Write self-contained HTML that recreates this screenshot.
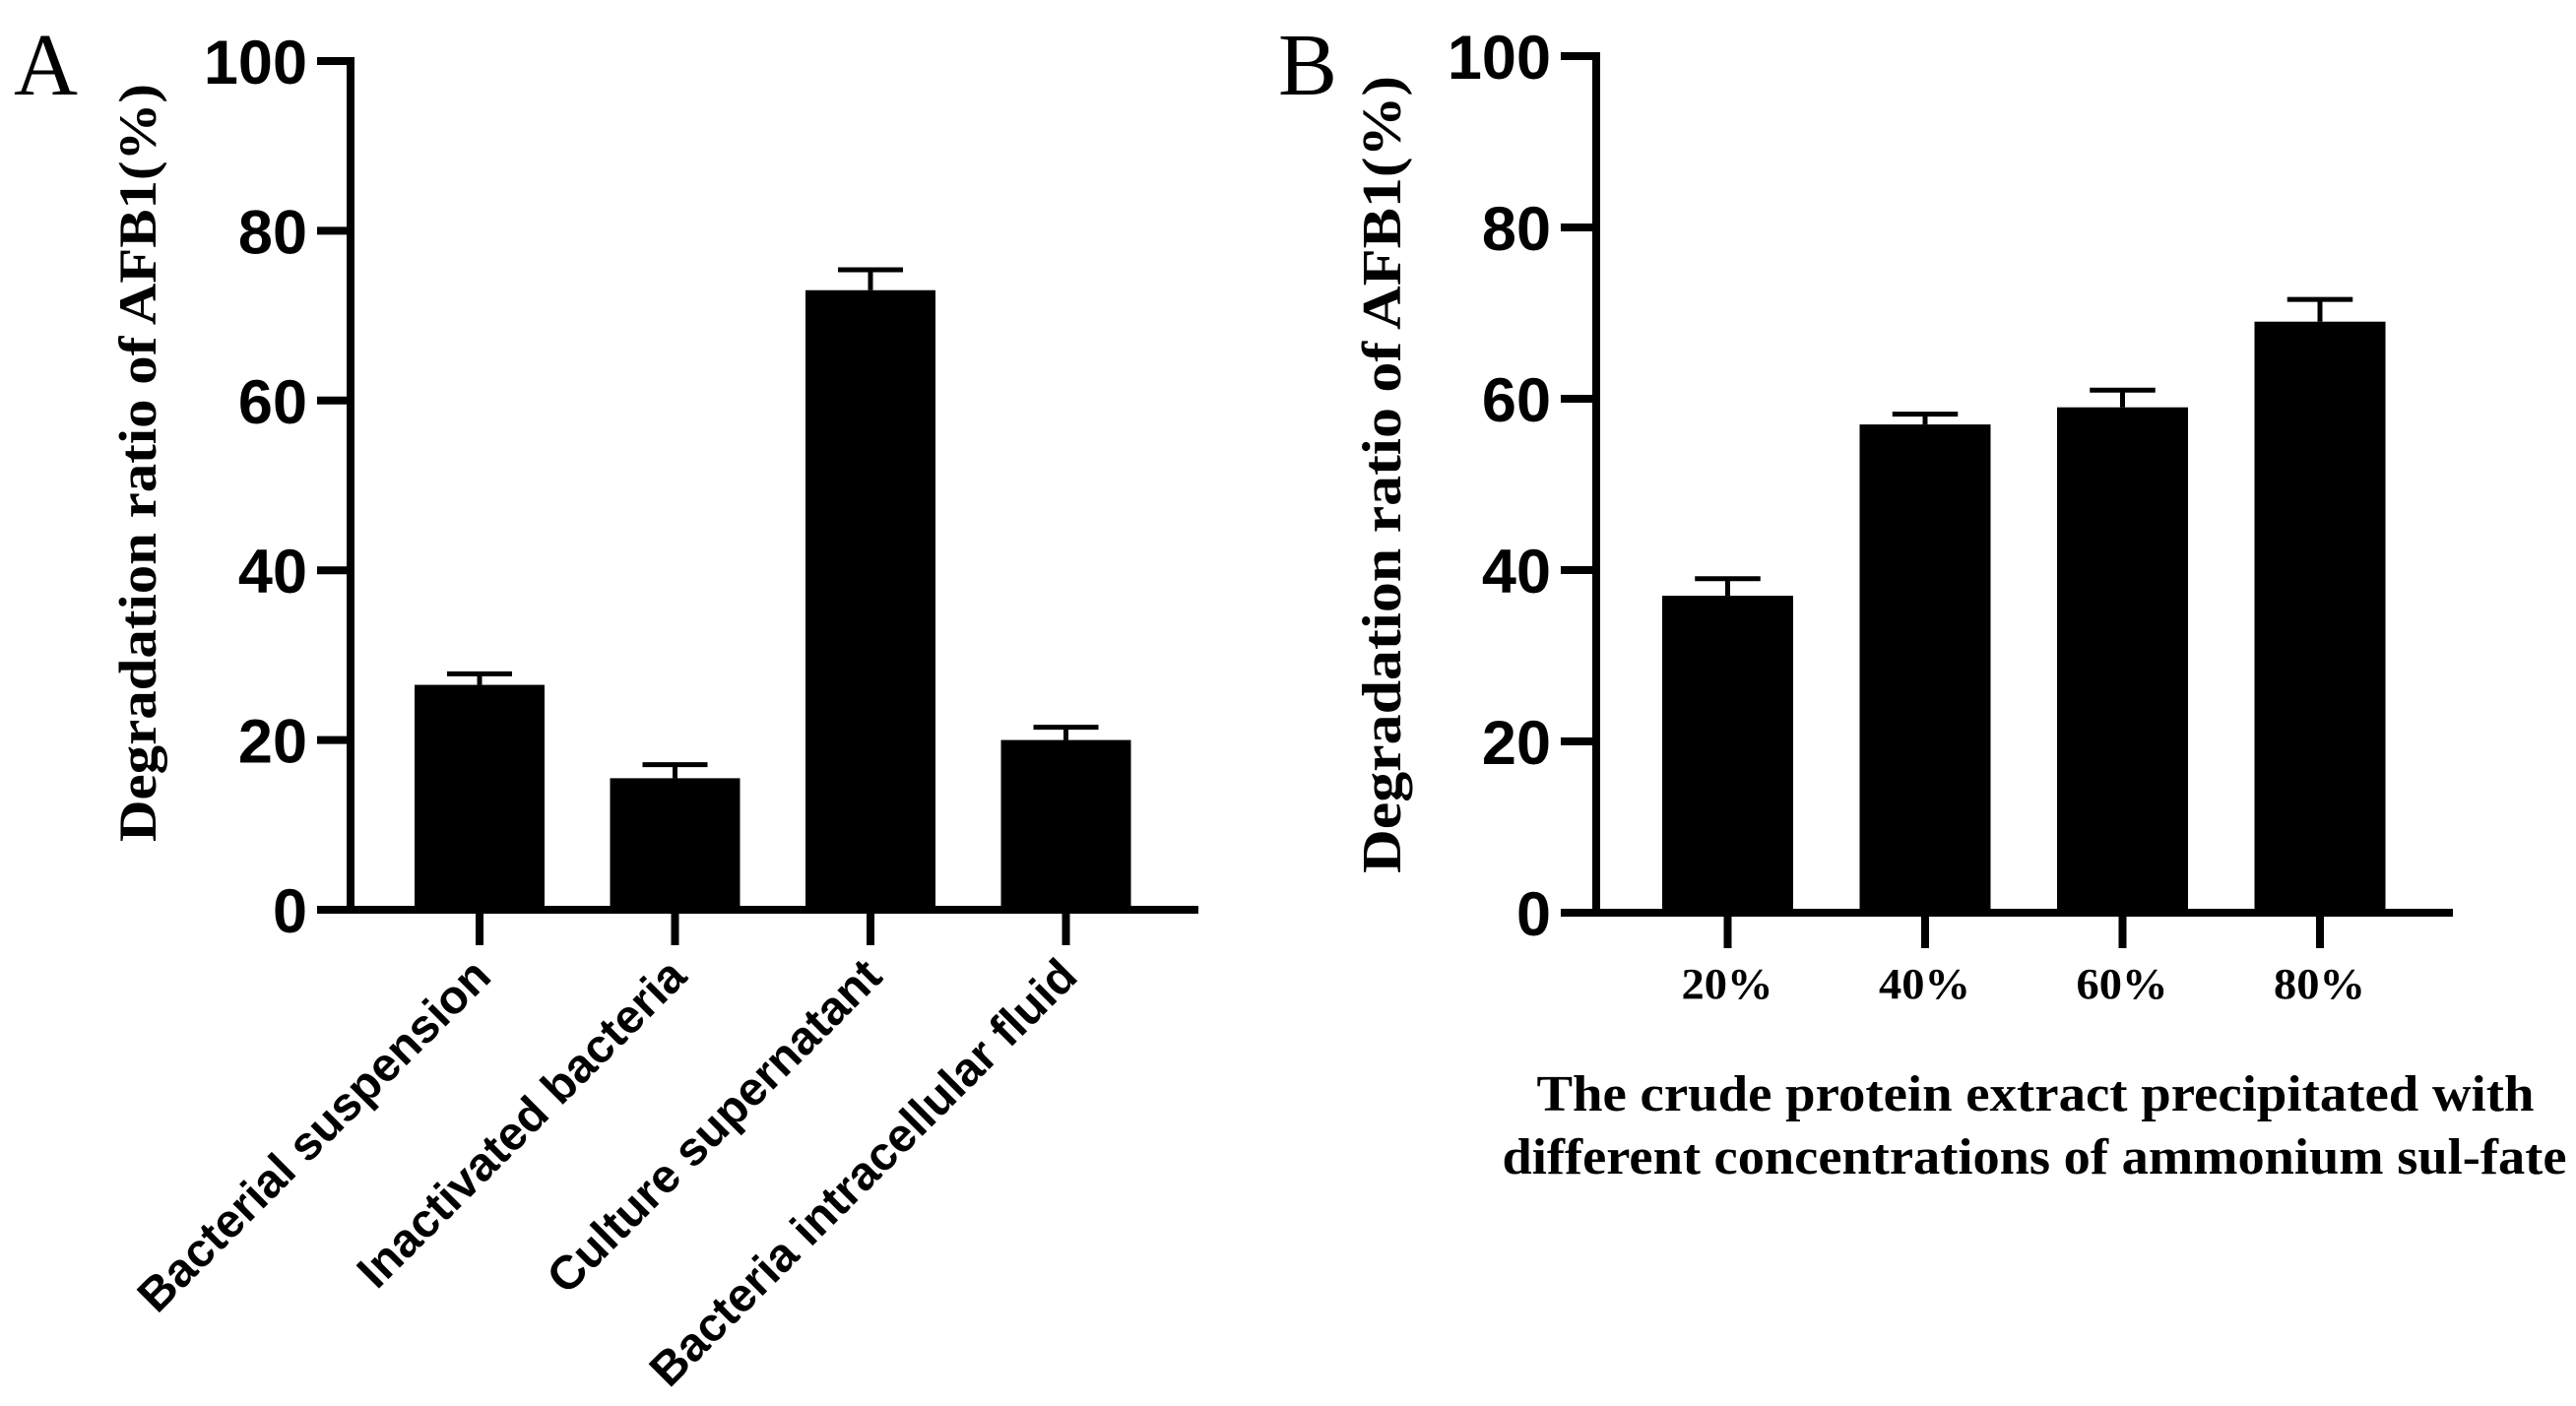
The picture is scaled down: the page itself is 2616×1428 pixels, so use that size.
<!DOCTYPE html>
<html><head><meta charset="utf-8"><style>
html,body{margin:0;padding:0;background:#fff;}
svg{display:block;}
.tick{font-family:"Liberation Sans",Arial,sans-serif;font-weight:bold;font-size:63px;}
.ser{font-family:"Liberation Serif","Times New Roman",serif;font-weight:bold;}
</style></head><body>
<svg id="chart" width="2616" height="1428" viewBox="0 0 2616 1428" xmlns="http://www.w3.org/2000/svg">
<rect width="2616" height="1428" fill="#fff"/>
<text x="14" y="96" class="ser" style="font-weight:normal" font-size="90">A</text>
<text x="1298" y="96" class="ser" style="font-weight:normal" font-size="90">B</text>
<g id="panelA"></g>
<g id="panelB"></g>
</svg>
<script>
const catsA = ["Bacterial suspension","Inactivated bacteria","Culture supernatant","Bacteria intracellular fluid"];
const valsA = [26.5, 15.5, 73, 20];
const errA = [1.3, 1.6, 2.4, 1.5];
const catsB = ["20%","40%","60%","80%"];
const valsB = [37, 57, 59, 69];
const errB = [2, 1.2, 2, 2.6];
const yTicks = [0, 20, 40, 60, 80, 100];
const NS = "http://www.w3.org/2000/svg";
function mk(parent, tag, attrs, text){
  const e = document.createElementNS(NS, tag);
  for (const k in attrs) e.setAttribute(k, attrs[k]);
  if (text !== undefined) e.textContent = text;
  parent.appendChild(e); return e;
}
function drawPanel(g, cfg, cats, vals, errs, prefix){
  const y = v => cfg.y0 - (cfg.y0 - cfg.y100) * v / 100;
  const x = i => cfg.firstBar + i * cfg.step;
  vals.forEach((v, i) => {
    const b = mk(g, "rect", {x: x(i), y: y(v), width: cfg.bw, height: y(0) - y(v), fill: "#000"});
    
    
    const cx = x(i) + cfg.bw / 2;
    const e1 = mk(g, "line", {x1: cx, x2: cx, y1: y(v), y2: y(v + errs[i]), stroke: "#000", "stroke-width": 5});
    
    
    const e2 = mk(g, "line", {x1: cx - cfg.bw / 4, x2: cx + cfg.bw / 4, y1: y(v + errs[i]), y2: y(v + errs[i]), stroke: "#000", "stroke-width": 5});
    
    
    const t = mk(g, "line", {x1: cx, x2: cx, y1: y(0), y2: y(0) + 36, stroke: "#000", "stroke-width": 8});
    
    
  });
  const ya = mk(g, "line", {x1: cfg.ax, x2: cfg.ax, y1: y(100) - 4, y2: y(0) + 4, stroke: "#000", "stroke-width": 8});
  
  
  const xa = mk(g, "line", {x1: cfg.xl, x2: cfg.xr, y1: y(0), y2: y(0), stroke: "#000", "stroke-width": 8});
  
  
  yTicks.forEach(t => {
    const l = mk(g, "line", {x1: cfg.xl, x2: cfg.ax, y1: y(t), y2: y(t), stroke: "#000", "stroke-width": 8});
    
    
    const tx = mk(g, "text", {x: cfg.xl - 10, y: y(t) + 23, "text-anchor": "end", class: "tick"}, String(t));
    
    
  });
  return {x, y};
}
const gA = document.getElementById("panelA");
const A = drawPanel(gA, {y0: 924, y100: 62, firstBar: 421, step: 198.5, bw: 132, ax: 356, xl: 322, xr: 1217}, catsA, valsA, errA, "a");
catsA.forEach((c, i) => {
  const cx = A.x(i) + 66 + 14, cy = 994;
  const t = mk(gA, "text", {x: cx, y: cy, "text-anchor": "end", transform: `rotate(-45 ${cx} ${cy})`, "font-family": "Liberation Sans, Arial, sans-serif", "font-weight": "bold", "font-size": 48}, c);
  
  
});
const ytA = mk(gA, "text", {x: 0, y: 0, transform: "translate(158 470) rotate(-90)", "text-anchor": "middle", class: "ser", "font-size": 54, textLength: 770, lengthAdjust: "spacingAndGlyphs"}, "Degradation ratio of AFB1(%)");



const gB = document.getElementById("panelB");
const B = drawPanel(gB, {y0: 927, y100: 57, firstBar: 1688, step: 200.5, bw: 133, ax: 1621, xl: 1585, xr: 2491}, catsB, valsB, errB, "b");
catsB.forEach((c, i) => {
  const t = mk(gB, "text", {x: B.x(i) + 66, y: 1014, "text-anchor": "middle", class: "ser", "font-size": 44, textLength: 93, lengthAdjust: "spacingAndGlyphs"}, c);
  
  
});
const ytB = mk(gB, "text", {x: 0, y: 0, transform: "translate(1422 482) rotate(-90)", "text-anchor": "middle", class: "ser", "font-size": 56, textLength: 810, lengthAdjust: "spacingAndGlyphs"}, "Degradation ratio of AFB1(%)");


const xt1 = mk(gB, "text", {x: 2067, y: 1128, "text-anchor": "middle", class: "ser", "font-size": 52, textLength: 1013, lengthAdjust: "spacingAndGlyphs"}, "The crude protein extract precipitated with");


const xt2 = mk(gB, "text", {x: 2066, y: 1192, "text-anchor": "middle", class: "ser", "font-size": 52, textLength: 1081, lengthAdjust: "spacingAndGlyphs"}, "different concentrations of ammonium sul-fate");


</script>
</body></html>
